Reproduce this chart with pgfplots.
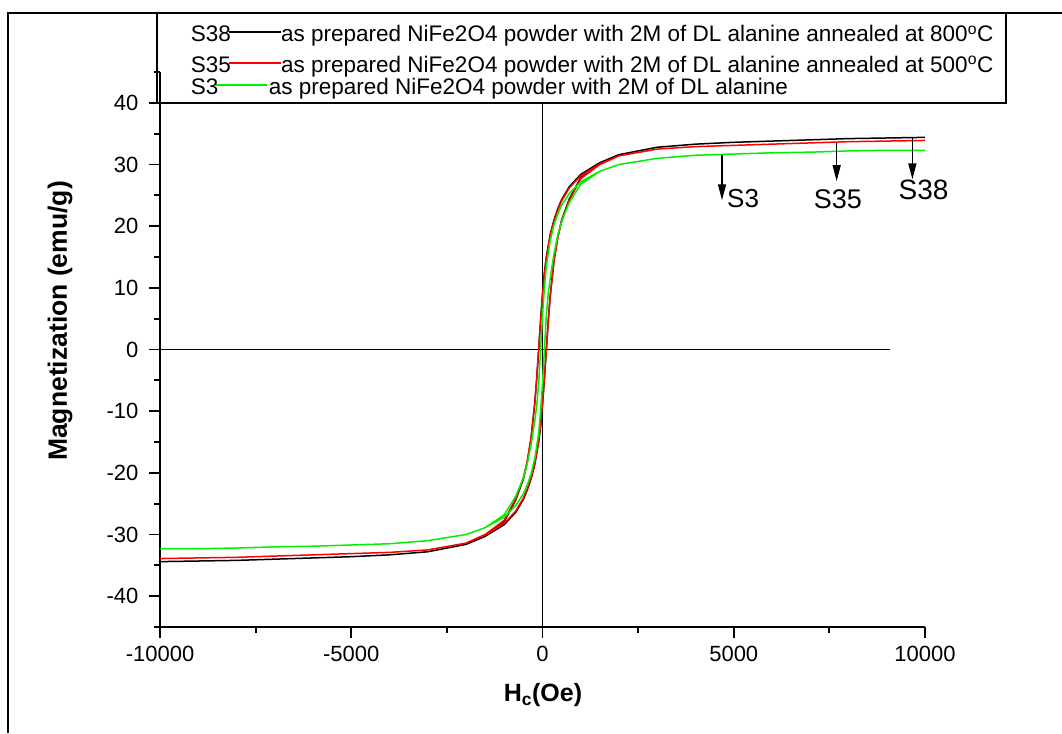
\documentclass[border=0pt]{standalone}
\usepackage{fontspec}
\setmainfont{Liberation Sans}
\usepackage{pgfplots}
\pgfplotsset{compat=1.18}
\usetikzlibrary{arrows.meta}
\definecolor{mygreen}{RGB}{0,240,0}
\begin{document}
\begin{tikzpicture}[x=1pt,y=1pt]
\useasboundingbox (0,0) rectangle (1062,733);
\draw[line width=1.5pt] (8,0) -- (8,720) -- (1062,720);
\begin{axis}[
  at={(160pt,106pt)}, anchor=south west, scale only axis,
  width=765pt, height=555pt,
  xmin=-10000, xmax=10000, ymin=-45, ymax=45,
  axis lines*=left,
  axis line style={line width=1.8pt},
  xtick={-10000,-5000,0,5000,10000},
  minor xtick={-7500,-2500,2500,7500},
  ytick={-40,-30,...,40},
  minor ytick={-45,-35,...,45},
  tick align=outside,
  major tick length=11pt, minor tick length=6pt,
  tick style={line width=1.8pt,black},
  /pgf/number format/assume math mode=true,
  /pgf/number format/set thousands separator={},
  scaled x ticks=false, scaled y ticks=false,
  tick label style={font=\fontsize{22}{26}\selectfont},
  yticklabel style={xshift=-7pt},
  xticklabel style={yshift=-5pt},
  clip=false,
]
\draw[line width=1.2pt] (axis cs:0,-45) -- (axis cs:0,40);
\draw[line width=1.2pt] (axis cs:-10000,0) -- (axis cs:9085,0);
% S38 black
\addplot[black, line width=1.5pt] coordinates {
(10000,34.4)(9000,34.3)(8000,34.2)(7000,34.0)(6000,33.8)(5000,33.6)(4000,33.3)(3000,32.8)(2000,31.6)(1500,30.3)(1000,28.4)(700,26.4)(500,24.3)(400,22.8)(300,21.0)(200,18.6)(100,15.0)(50,12.5)(0,9.0)(-50,4.8)(-100,0)(-150,-4.6)(-200,-8.6)(-300,-14.5)(-400,-18.3)(-500,-21.0)(-700,-24.4)(-1000,-27.9)(-1500,-30.2)(-2000,-31.6)(-3000,-32.8)(-4000,-33.3)(-5000,-33.6)(-6000,-33.8)(-7000,-34.0)(-8000,-34.2)(-9000,-34.3)(-10000,-34.4)
(-9000,-34.3)(-8000,-34.2)(-7000,-34.0)(-6000,-33.8)(-5000,-33.6)(-4000,-33.3)(-3000,-32.8)(-2000,-31.6)(-1500,-30.3)(-1000,-28.4)(-700,-26.4)(-500,-24.3)(-400,-22.8)(-300,-21.0)(-200,-18.6)(-100,-15.0)(-50,-12.5)(0,-9.0)(50,-4.8)(100,0)(150,4.6)(200,8.6)(300,14.5)(400,18.3)(500,21.0)(700,24.4)(1000,27.9)(1500,30.2)(2000,31.6)(3000,32.8)(4000,33.3)(5000,33.6)(6000,33.8)(7000,34.0)(8000,34.2)(9000,34.3)(10000,34.4)
};
% S35 red
\addplot[red, line width=1.5pt] coordinates {
(10000,33.9)(9000,33.8)(8000,33.7)(7000,33.5)(6000,33.3)(5000,33.1)(4000,32.9)(3000,32.5)(2000,31.4)(1500,30.1)(1000,28.2)(700,26.2)(500,24.1)(400,22.6)(300,20.8)(200,18.4)(100,14.8)(50,12.2)(0,8.7)(-50,4.5)(-100,0)(-150,-4.6)(-200,-8.5)(-300,-14.3)(-400,-18.1)(-500,-20.8)(-700,-24.2)(-1000,-27.7)(-1500,-30.0)(-2000,-31.4)(-3000,-32.5)(-4000,-32.9)(-5000,-33.1)(-6000,-33.3)(-7000,-33.5)(-8000,-33.7)(-9000,-33.8)(-10000,-33.9)
(-9000,-33.8)(-8000,-33.7)(-7000,-33.5)(-6000,-33.3)(-5000,-33.1)(-4000,-32.9)(-3000,-32.5)(-2000,-31.4)(-1500,-30.1)(-1000,-28.2)(-700,-26.2)(-500,-24.1)(-400,-22.6)(-300,-20.8)(-200,-18.4)(-100,-14.8)(-50,-12.2)(0,-8.7)(50,-4.5)(100,0)(150,4.6)(200,8.5)(300,14.3)(400,18.1)(500,20.8)(700,24.2)(1000,27.7)(1500,30.0)(2000,31.4)(3000,32.5)(4000,32.9)(5000,33.1)(6000,33.3)(7000,33.5)(8000,33.7)(9000,33.8)(10000,33.9)
};
% S3 green
\addplot[mygreen, line width=1.5pt] coordinates {
(10000,32.3)(9000,32.3)(8000,32.2)(7000,32.0)(6000,31.9)(5000,31.7)(4000,31.5)(3000,31.0)(2000,30.0)(1500,28.9)(1000,27.2)(700,25.3)(500,23.4)(400,22.0)(300,20.2)(200,17.6)(100,13.5)(50,10.0)(0,5.5)(-50,0)(-100,-5.5)(-150,-9.0)(-200,-11.5)(-300,-15.5)(-400,-18.5)(-500,-20.8)(-700,-23.8)(-1000,-26.8)(-1500,-28.9)(-2000,-30.0)(-3000,-31.0)(-4000,-31.5)(-5000,-31.7)(-6000,-31.9)(-7000,-32.0)(-8000,-32.2)(-9000,-32.3)(-10000,-32.3)
(-9000,-32.3)(-8000,-32.2)(-7000,-32.0)(-6000,-31.9)(-5000,-31.7)(-4000,-31.5)(-3000,-31.0)(-2000,-30.0)(-1500,-28.9)(-1000,-27.2)(-700,-25.3)(-500,-23.4)(-400,-22.0)(-300,-20.2)(-200,-17.6)(-100,-13.5)(-50,-10.0)(0,-5.5)(50,0)(100,5.5)(150,9.0)(200,11.5)(300,15.5)(400,18.5)(500,20.8)(700,23.8)(1000,26.8)(1500,28.9)(2000,30.0)(3000,31.0)(4000,31.5)(5000,31.7)(6000,31.9)(7000,32.0)(8000,32.2)(9000,32.3)(10000,32.3)
};
% annotations
\draw[line width=1.5pt, -{Triangle[length=16pt,width=8pt]}] (axis cs:4693,31.6) -- (axis cs:4693,24.2);
\node[anchor=west, inner sep=0, font=\fontsize{26}{30}\selectfont] at (axis cs:4824,24.4) {S3};
\draw[line width=1.5pt, -{Triangle[length=16pt,width=8pt]}] (axis cs:7690,33.5) -- (axis cs:7690,27.3);
\node[inner sep=0, font=\fontsize{27}{30}\selectfont] at (axis cs:7725,24.4) {S35};
\draw[line width=1.5pt, -{Triangle[length=16pt,width=8pt]}] (axis cs:9670,34.4) -- (axis cs:9670,27.6);
\node[inner sep=0, font=\fontsize{28}{30}\selectfont] at (axis cs:9961,25.9) {S38};
\end{axis}
% legend
\draw[line width=1.2pt] (157,720) -- (157,630) -- (1006,630) -- (1006,720);
\begin{scope}[every node/.style={anchor=base west, inner sep=0, font=\fontsize{22.5}{26}\selectfont}]
\node at (190.7,691) {S38};
\draw[black, line width=1.3pt] (229.3,701) -- (280.7,701);
\node at (281,691) {as prepared NiFe2O4 powder with 2M of DL alanine annealed at 800\textsuperscript{o}C};
\node at (190.7,660.5) {S35};
\draw[red, line width=1.3pt] (229.3,670) -- (280.7,670);
\node at (281,660.5) {as prepared NiFe2O4 powder with 2M of DL alanine annealed at 500\textsuperscript{o}C};
\node at (190.7,638) {S3};
\draw[mygreen, line width=1.4pt] (216,648) -- (266.7,648);
\node at (268.7,638) {as prepared NiFe2O4 powder with 2M of DL alanine};
\end{scope}
% axis labels
\node[rotate=90, font=\bfseries\fontsize{26.5}{30}\selectfont] at (60,412) {Magnetization (emu/g)};
\node[font=\bfseries\fontsize{25}{30}\selectfont] at (543,38) {H\textsubscript{c}(Oe)};
\end{tikzpicture}
\end{document}
